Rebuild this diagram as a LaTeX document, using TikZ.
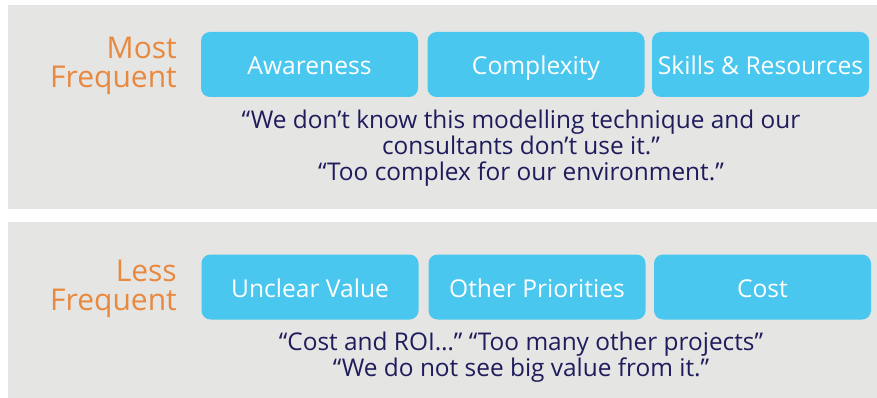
\documentclass[tikz,border=0pt]{standalone}
\usepackage{fontspec}
\setmainfont{Open Sans}
\definecolor{panelgray}{HTML}{E5E5E4}
\definecolor{boxblue}{HTML}{4AC7EE}
\definecolor{labelorange}{HTML}{E8893F}
\definecolor{quotenavy}{HTML}{1F1C5C}
\tikzset{
  panel/.style={fill=panelgray, draw=none},
  catbox/.style={fill=boxblue, draw=none, rounded corners=9pt, minimum width=217pt, minimum height=65pt, inner sep=0pt},
  cattext/.style={text=white, font=\fontsize{24.6}{28}\selectfont, anchor=base, inner sep=0pt},
  freqlabel/.style={text=labelorange, font=\fontsize{30}{32}\selectfont, anchor=base east, inner sep=0pt},
  quoteline/.style={text=quotenavy, font=\fontsize{24.4}{28}\selectfont, anchor=base, inner sep=0pt}
}
\begin{document}
\begin{tikzpicture}[x=1pt,y=-1pt]
\useasboundingbox (0,0) rectangle (877,398);
\fill[white] (0,0) rectangle (877,398);
% panels
\path[panel] (8,5) rectangle (877,209);
\path[panel] (8,222) rectangle (877,398);
% top row boxes
\node[catbox] (aw) at (309.5,64.5) {};
\node[catbox] (cx) at (536,64.5) {};
\node[catbox] (sk) at (760.5,64.5) {};
\node[cattext] (awt) at (309.5,75) {Awareness};
\node[cattext] (cxt) at (536,75) {Complexity};
\node[cattext] (skt) at (760.5,75) {Skills \& Resources};
% bottom row boxes
\node[catbox] (uv) at (310,287) {};
\node[catbox] (op) at (537,287) {};
\node[catbox] (co) at (762.5,287) {};
\node[cattext] (uvt) at (310,297) {Unclear Value};
\node[cattext] (opt) at (537,297) {Other Priorities};
\node[cattext] (cot) at (762.5,297) {Cost};
% labels
\node[freqlabel] (m1) at (177,59) {Most};
\node[freqlabel] (m2) at (177,88) {Frequent};
\node[freqlabel] (l1) at (177,281) {Less};
\node[freqlabel] (l2) at (177,310) {Frequent};
% quotes
\node[quoteline] (q1) at (521,129) {“We don’t know this modelling technique and our};
\node[quoteline] (q2) at (521,155) {consultants don’t use it.”};
\node[quoteline] (q3) at (521,181) {“Too complex for our environment.”};
\node[quoteline] (q4) at (521,350) {“Cost and ROI…” “Too many other projects”};
\node[quoteline] (q5) at (521,376) {“We do not see big value from it.”};
\end{tikzpicture}
\end{document}
